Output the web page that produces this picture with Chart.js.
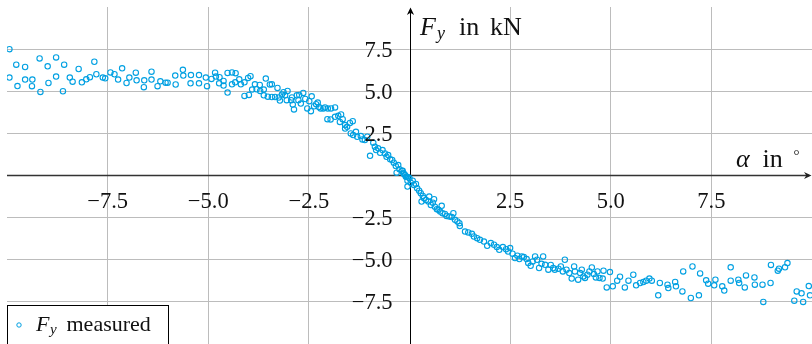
<!DOCTYPE html>
<html><head><meta charset="utf-8">
<script src="https://cdn.jsdelivr.net/npm/chart.js@4"></script>
<style>html,body{margin:0;padding:0;background:#fff;overflow:hidden}</style>
</head><body>
<canvas id="c" width="812" height="344"></canvas>
<script>
// measured side force F_y (kN) versus slip angle alpha (deg)
const alphaDeg = [
 -9.94,-9.77,-9.55,-9.94,-9.74,-9.55,-9.37,-9.38,-9.19,-9.17,-8.99,-8.97,-8.78,-8.78,-8.58,-8.61,
 -8.44,-8.37,-8.22,-8.14,-8.03,-7.94,-7.83,-7.78,-7.62,-7.56,-7.43,-7.33,-7.24,-7.14,-7.03,-6.96,
 -6.80,-6.78,-6.60,-6.59,-6.41,-6.41,-6.26,-6.19,-6.06,-6.01,-5.82,-5.81,-5.63,-5.62,-5.43,-5.44,
 -5.23,-5.23,-5.03,-5.06,-4.92,-4.83,-4.81,-4.72,-4.73,-4.62,-4.62,-4.52,-4.52,-4.41,-4.32,-4.41,
 -4.33,-4.23,-4.19,-4.10,-4.01,-3.95,-4.10,-3.99,-3.91,-3.84,-3.80,-3.72,-3.71,-3.62,-3.62,-3.57,
 -3.52,-3.47,
 -3.42,-3.28,-3.42,-3.34,-3.25,-3.22,-3.17,-3.13,-3.09,-3.03,-3.05,-2.94,-2.92,-2.90,-2.87,-2.80,
 -2.74,-2.76,-2.70,-2.64,-2.59,-2.54,-2.45,-2.43,-2.49,-2.37,-2.32,-2.28,-2.25,-2.21,-2.14,-2.10,
 -2.03,-1.95,-1.85,-2.04,-1.96,-1.85,-1.77,-1.70,-1.66,-1.73,-1.60,-1.55,-1.60,-1.48,-1.41,-1.46,
 -1.40,-1.33,-1.30,-1.21,-1.17,-1.11,-1.05,-0.98,-0.90,-0.86,-0.83,-0.78,-0.73,-0.67,-0.61,-0.57,
 -0.53,-0.48,-0.43,-0.39,-0.34,-0.28,-0.25,-0.32,-0.19,-0.15,-0.11,-0.07,-0.03,
 -0.17,-0.14,-0.09,-0.05,0.00,0.03,0.08,0.11,0.16,-0.05,0.19,0.24,0.28,0.33,0.30,0.36,
 0.41,0.47,0.49,0.53,0.58,0.61,0.63,0.68,0.72,0.76,0.80,0.82,0.88,0.92,0.99,1.05,
 1.09,1.13,1.19,1.24,1.25,1.38,1.46,1.55,1.60,1.68,1.75,1.85,1.93,2.02,2.10,2.17,
 2.23,2.32,2.40,2.45,2.50,2.56,2.62,2.68,2.73,2.79,2.84,2.91,2.95,3.01,3.06,3.12,
 3.17,3.22,3.28,
 3.32,3.37,3.45,3.51,3.57,3.61,3.70,3.76,3.81,3.86,3.90,3.97,4.03,4.09,4.11,4.19,
 4.24,4.28,4.32,4.36,4.42,4.47,4.53,4.58,4.63,4.67,4.72,4.80,4.82,4.90,4.98,5.05,
 5.16,5.23,5.35,5.44,5.56,5.63,5.73,5.81,5.88,5.96,6.02,6.18,6.22,6.41,6.43,
 6.60,6.62,6.80,6.78,7.03,6.99,7.19,7.22,7.37,7.42,7.60,7.57,7.77,7.82,7.98,7.98,
 8.17,8.19,8.33,8.36,8.57,8.58,8.77,8.79,8.98,8.97,9.15,9.18,9.33,9.39,9.56,9.62,
 9.74,9.78,9.92,9.95
];
const forceKN = [
 7.50,6.58,6.44,5.81,5.31,5.69,5.69,5.30,6.95,4.96,6.48,5.49,7.01,5.87,6.58,5.00,
 5.81,5.57,6.32,5.53,5.71,5.83,6.75,6.01,5.81,5.77,6.12,6.01,5.69,6.36,5.49,5.81,
 6.10,5.65,5.24,5.65,6.16,5.69,5.30,5.59,5.51,5.51,5.93,5.40,6.27,5.93,5.96,5.47,
 5.96,5.47,5.30,5.81,5.73,6.10,5.87,5.83,5.47,5.61,5.34,4.92,6.09,6.12,6.07,5.41,
 5.53,5.71,5.41,5.53,5.79,5.89,4.72,4.78,5.10,5.41,5.12,5.37,5.02,5.10,4.76,5.75,
 4.68,5.40,
 5.41,5.20,4.66,4.66,4.63,4.45,4.80,4.94,4.76,5.02,4.47,4.47,4.63,4.21,3.92,4.76,
 4.78,4.47,4.27,4.90,4.54,3.98,3.82,4.70,4.41,4.11,4.23,4.33,4.07,3.98,3.98,4.04,
 3.98,3.98,4.04,3.34,3.33,3.48,3.54,3.62,3.34,3.18,2.99,2.89,2.79,3.12,3.22,2.50,
 2.40,2.59,2.30,2.34,2.14,2.10,2.30,1.17,1.94,1.70,1.51,1.61,1.35,1.51,1.31,1.11,
 1.21,0.96,0.92,0.76,0.56,0.62,0.37,0.17,0.28,0.13,0.03,-0.07,-0.11,
 0.28,0.09,-0.07,-0.31,-0.17,-0.43,-0.31,-0.56,-0.50,-0.66,-0.76,-0.90,-1.05,-1.21,-1.55,-1.35,
 -1.45,-1.55,-1.25,-1.75,-1.61,-1.41,-1.85,-2.00,-2.04,-2.14,-1.80,-2.24,-2.28,-2.40,-2.44,-2.47,
 -2.24,-2.63,-2.73,-2.83,-2.99,-3.33,-3.38,-3.46,-3.62,-3.72,-3.82,-3.92,-4.17,-4.01,-4.11,-4.25,
 -4.41,-4.25,-4.37,-4.51,-4.31,-4.64,-4.90,-4.76,-4.96,-4.80,-4.84,-4.96,-5.20,-5.36,-5.10,-4.80,
 -5.00,-5.49,-5.24,
 -4.80,-5.30,-5.59,-5.31,-5.49,-5.59,-5.53,-5.40,-5.69,-5.00,-5.59,-5.79,-6.12,-5.40,-5.69,-6.18,
 -5.79,-5.59,-5.99,-6.08,-5.89,-5.69,-5.46,-5.85,-6.05,-5.69,-6.08,-6.12,-5.65,-6.64,-5.73,-6.58,
 -6.24,-6.01,-6.64,-6.24,-5.89,-6.52,-6.38,-6.32,-6.24,-6.12,-6.24,-7.11,-6.38,-6.48,-6.68,
 -6.32,-6.58,-5.69,-6.88,-5.40,-7.27,-7.11,-5.81,-6.22,-6.42,-6.18,-6.52,-6.58,-6.83,-5.45,-6.24,
 -6.18,-6.38,-6.64,-5.93,-6.05,-6.48,-6.48,-7.50,-5.31,-6.38,-5.65,-5.53,-5.45,-5.20,-7.43,-6.88,
 -6.99,-7.50,-6.56,-7.11
];
const xTickValues = [-7.5, -5, -2.5, 2.5, 5, 7.5];
const xTickLabels = ['\u22127.5', '\u22125.0', '\u22122.5', '2.5', '5.0', '7.5'];
const yTickValues = [7.5, 5, 2.5, -2.5, -5, -7.5];
const yTickLabels = ['7.5', '5.0', '2.5', '\u22122.5', '\u22125.0', '\u22127.5'];
const legendLabel = 'measured';

const CYAN = 'rgb(0,160,226)';
const SERIF = '"Liberation Serif", "DejaVu Serif", serif';

const points = alphaDeg.map((a, i) => ({x: a, y: forceKN[i]}));

function gridColor(ctx) {
  const v = ctx.tick ? ctx.tick.value : null;
  if (v === null || Math.abs(v) >= 10 || v === 0) return 'rgba(0,0,0,0)';
  return '#bcbcbc';
}

const overlay = {
  id: 'overlay',
  beforeDatasetsDraw(chart) {
    const ctx = chart.ctx, a = chart.chartArea;
    const xs = chart.scales.x, ys = chart.scales.y;
    const x0 = Math.round(xs.getPixelForValue(0)) + 0.5;
    const y0 = ys.getPixelForValue(0);
    ctx.save();
    ctx.strokeStyle = '#333'; ctx.lineWidth = 1.3;
    ctx.beginPath(); ctx.moveTo(a.left, y0); ctx.lineTo(809, y0); ctx.stroke();
    ctx.fillStyle = '#222';
    ctx.beginPath();
    ctx.moveTo(811.5, y0); ctx.lineTo(804, y0 - 3.6); ctx.lineTo(806.3, y0); ctx.lineTo(804, y0 + 3.6);
    ctx.closePath(); ctx.fill();
    ctx.strokeStyle = '#000'; ctx.lineWidth = 1;
    ctx.beginPath(); ctx.moveTo(x0, a.bottom); ctx.lineTo(x0, 10); ctx.stroke();
    ctx.fillStyle = '#000';
    ctx.beginPath();
    ctx.moveTo(x0, 7.5); ctx.lineTo(x0 - 3.6, 15); ctx.lineTo(x0, 12.7); ctx.lineTo(x0 + 3.6, 15);
    ctx.closePath(); ctx.fill();
    ctx.restore();
  },
  afterDatasetsDraw(chart) {
    const ctx = chart.ctx;
    const xs = chart.scales.x, ys = chart.scales.y;
    const x0 = xs.getPixelForValue(0);
    const y0 = ys.getPixelForValue(0);
    ctx.save();
    ctx.fillStyle = '#111';
    ctx.font = '22.5px ' + SERIF;
    ctx.textBaseline = 'alphabetic';
    ctx.textAlign = 'center';
    xTickValues.forEach((v, i) => {
      ctx.fillText(xTickLabels[i], xs.getPixelForValue(v), y0 + 32);
    });
    ctx.textAlign = 'right';
    yTickValues.forEach((v, i) => {
      ctx.fillText(yTickLabels[i], x0 - 17, ys.getPixelForValue(v) + 7.5);
    });
    ctx.textAlign = 'left';
    ctx.font = 'italic 26px ' + SERIF;
    ctx.fillText('F', 420, 35);
    ctx.font = 'italic 18px ' + SERIF;
    ctx.fillText('y', 437, 38.5);
    ctx.font = '26px ' + SERIF;
    ctx.fillText('in', 459, 35);
    ctx.fillText('kN', 490, 35);
    ctx.font = 'italic 26px ' + SERIF;
    ctx.fillText('\u03b1', 736, 166.5);
    ctx.font = '26px ' + SERIF;
    ctx.fillText('in', 762.5, 166.5);
    ctx.font = '15px ' + SERIF;
    ctx.fillText('\u00b0', 793.5, 159.5);
    ctx.fillStyle = '#fff';
    ctx.fillRect(7.5, 305.5, 161, 50);
    ctx.strokeStyle = '#000'; ctx.lineWidth = 1;
    ctx.strokeRect(7.5, 305.5, 161, 50);
    ctx.strokeStyle = CYAN; ctx.lineWidth = 1;
    ctx.beginPath(); ctx.arc(19, 325, 2.2, 0, Math.PI * 2); ctx.stroke();
    ctx.fillStyle = '#111';
    ctx.font = 'italic 22px ' + SERIF;
    ctx.fillText('F', 36, 331);
    ctx.font = 'italic 15px ' + SERIF;
    ctx.fillText('y', 50, 334);
    ctx.font = '22px ' + SERIF;
    ctx.fillText(legendLabel, 66.5, 331);
    ctx.restore();
  }
};

new Chart(document.getElementById('c'), {
  type: 'scatter',
  data: {
    datasets: [{
      label: 'F_y ' + legendLabel,
      data: points,
      showLine: false,
      pointStyle: 'circle',
      pointRadius: 2.7,
      pointBorderWidth: 1.1,
      pointBackgroundColor: 'rgba(0,0,0,0)',
      pointBorderColor: CYAN
    }]
  },
  options: {
    responsive: false,
    animation: false,
    devicePixelRatio: 1,
    layout: {autoPadding: false, padding: {left: 7, top: 7, right: 0, bottom: 0}},
    plugins: {legend: {display: false}, tooltip: {enabled: false}},
    scales: {
      x: {
        type: 'linear', min: -10, max: 10,
        ticks: {stepSize: 2.5, display: false},
        grid: {color: gridColor, lineWidth: 1, drawTicks: false},
        border: {display: false}
      },
      y: {
        type: 'linear', min: -10, max: 10,
        ticks: {stepSize: 2.5, display: false},
        grid: {color: gridColor, lineWidth: 1, drawTicks: false},
        border: {display: false}
      }
    }
  },
  plugins: [overlay]
});
</script>
</body></html>
